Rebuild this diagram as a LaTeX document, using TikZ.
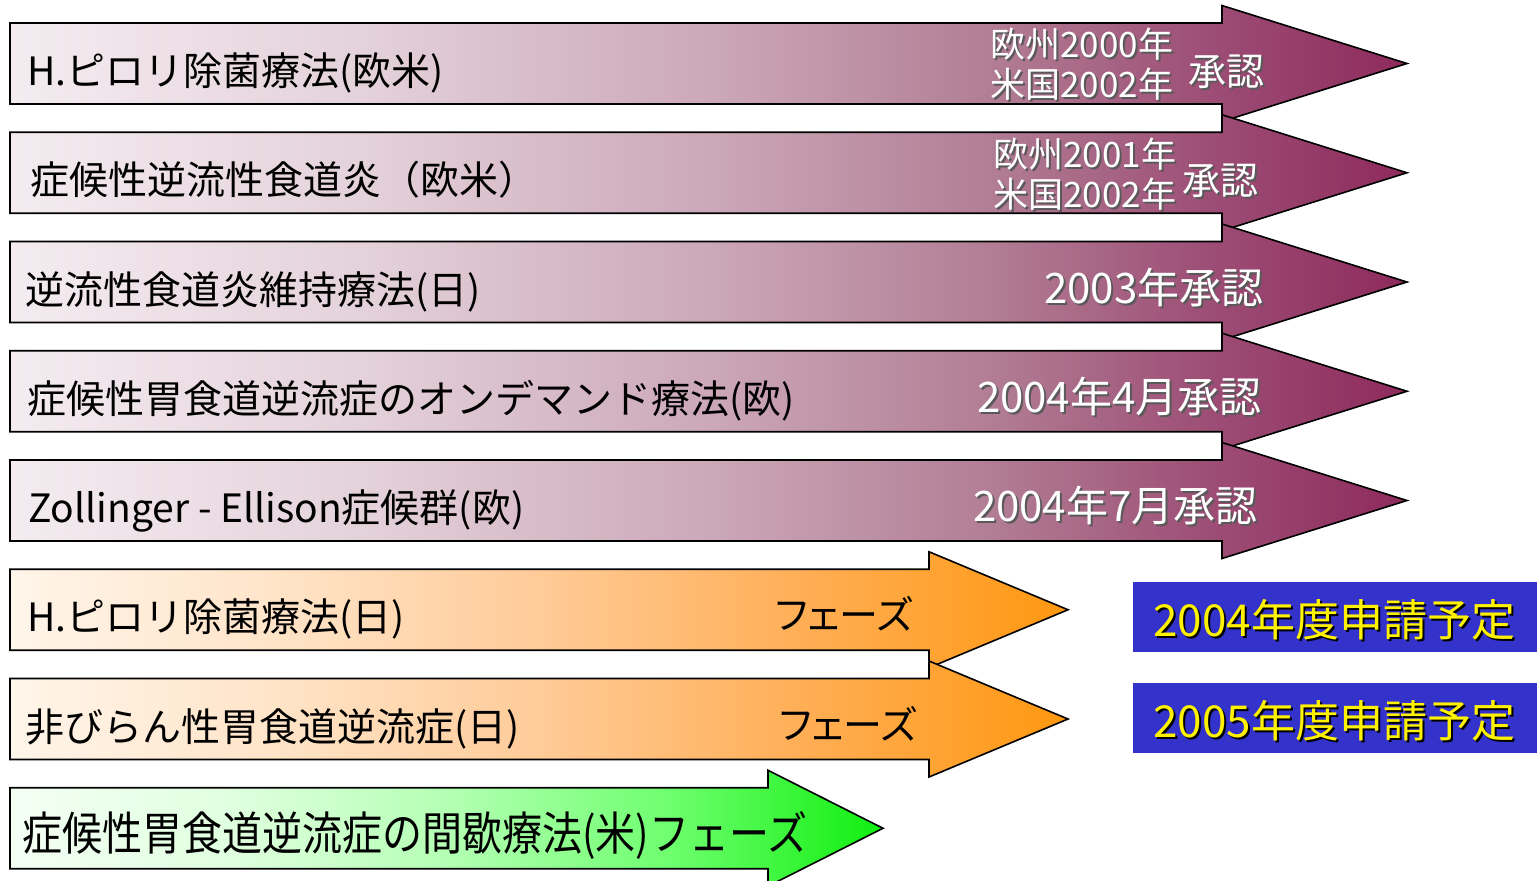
\documentclass[tikz,border=0pt]{standalone}
\usepackage{fontspec}
\setmainfont{Noto Sans CJK JP}
\newcommand\fsz[1]{\fontsize{#1}{#1}\selectfont}
\definecolor{p0}{HTML}{F4ECF0}
\definecolor{p1}{HTML}{E4D2DA}
\definecolor{p2}{HTML}{CCA8B8}
\definecolor{p3}{HTML}{B27E95}
\definecolor{p4}{HTML}{9E5077}
\definecolor{p5}{HTML}{8E2A5C}
\definecolor{o0}{HTML}{FFF5EA}
\definecolor{o1}{HTML}{FFE4C8}
\definecolor{o2}{HTML}{FFCB98}
\definecolor{o3}{HTML}{FFAE55}
\definecolor{o4}{HTML}{FF9810}
\definecolor{g0}{HTML}{F4FFF4}
\definecolor{g1}{HTML}{E0FFE0}
\definecolor{g2}{HTML}{B4FFB4}
\definecolor{g3}{HTML}{70FF70}
\definecolor{g4}{HTML}{10EE10}
\definecolor{boxblue}{HTML}{3333CC}
\pgfdeclarehorizontalshading{purpleshade}{100bp}{color(0bp)=(p0); color(25bp)=(p0); color(37.5bp)=(p1); color(50bp)=(p2); color(60bp)=(p3); color(67.5bp)=(p4); color(75bp)=(p5); color(100bp)=(p5)}
\pgfdeclarehorizontalshading{orangeshade}{100bp}{color(0bp)=(o0); color(25bp)=(o0); color(37.5bp)=(o1); color(50bp)=(o2); color(62.5bp)=(o3); color(75bp)=(o4); color(100bp)=(o4)}
\pgfdeclarehorizontalshading{greenshade}{100bp}{color(0bp)=(g0); color(25bp)=(g0); color(37.5bp)=(g1); color(50bp)=(g2); color(62.5bp)=(g3); color(75bp)=(g4); color(100bp)=(g4)}
\tikzset{
  arrowbody/.style={draw=black, line width=0.8pt, line join=miter},
  purplefill/.style={arrowbody, shading=purpleshade},
  orangefill/.style={arrowbody, shading=orangeshade},
  greenfill/.style={arrowbody, shading=greenshade},
  lbl/.style={anchor=base west, inner sep=0pt, font=\fsz{19.5pt}, text=black},
  phase/.style={anchor=base east, inner sep=0pt, font={\fsz{19.5pt}\addfontfeatures{RawFeature=+palt}}, text=black},
  smallw/.style={anchor=base west, inner sep=0pt, font=\fsz{17.5pt}},
  midw/.style={anchor=base west, inner sep=0pt, font=\fsz{19pt}},
  bigw/.style={anchor=base east, inner sep=0pt, font=\fsz{21pt}},
  bluebox/.style={fill=boxblue, draw=none},
  boxtxt/.style={anchor=base west, inner sep=0pt, font=\fsz{22pt}},
}
% #1 name, #2 position, #3 style, #4 text colour, #5 shadow colour, #6 text
\newcommand\shnode[6]{%
  \node[#3, text=#5, xshift=1pt, yshift=-1pt] (#1s) at #2 {#6};
  \node[#3, text=#4] (#1) at #2 {#6};}
% #1 centre y, #2 head base x, #3 tip x, #4 style
\newcommand\myarrow[4]{%
  \path[#4] (10,#1-40.5) -- (#2,#1-40.5) -- (#2,#1-58) -- (#3,#1) -- (#2,#1+58)
    -- (#2,#1+40.5) -- (10,#1+40.5) -- cycle;}
\begin{document}
\begin{tikzpicture}[x=0.5pt, y=-0.5pt]
\useasboundingbox (0,0) rectangle (1537,880);
% purple arrows
\myarrow{63.5}{1222}{1407}{purplefill}
\node[lbl] (p1) at (27,85) {H.ピロリ除菌療法(欧米)};
\shnode{r1a}{(990,57)}{smallw}{white}{black!65}{欧州2000年}
\shnode{r1b}{(990,97)}{smallw}{white}{black!65}{米国2002年}
\shnode{r1c}{(1188,85)}{midw}{white}{black!65}{承認}
\myarrow{172.75}{1222}{1407}{purplefill}
\node[lbl] (p2) at (30,194) {症候性逆流性食道炎（欧米）};
\shnode{r2a}{(993,167)}{smallw}{white}{black!65}{欧州2001年}
\shnode{r2b}{(993,207)}{smallw}{white}{black!65}{米国2002年}
\shnode{r2c}{(1182,194)}{midw}{white}{black!65}{承認}
\myarrow{282}{1222}{1407}{purplefill}
\node[lbl] (p3) at (25,304) {逆流性食道炎維持療法(日)};
\shnode{r3}{(1264,303)}{bigw}{white}{black!65}{2003年承認}
\myarrow{391.25}{1222}{1407}{purplefill}
\node[lbl] (p4) at (27,413) {症候性胃食道逆流症のオンデマンド療法(欧)};
\shnode{r4}{(1262,412)}{bigw}{white}{black!65}{2004年4月承認}
\myarrow{500.5}{1222}{1407}{purplefill}
\node[lbl] (p5) at (28,522) {Zollinger - Ellison症候群(欧)};
\shnode{r5}{(1258,521)}{bigw}{white}{black!65}{2004年7月承認}
% orange arrows
\myarrow{609.75}{929}{1068}{orangefill}
\node[lbl] (o1) at (27,631) {H.ピロリ除菌療法(日)};
\node[phase] (o1p) at (913,629) {フェーズ};
\myarrow{719}{929}{1068}{orangefill}
\node[lbl] (o2) at (25,741) {非びらん性胃食道逆流症(日)};
\node[phase] (o2p) at (917,739) {フェーズ};
% green arrow
\myarrow{828.25}{768}{883}{greenfill}
\node[lbl, font=\fsz{20pt}, yscale=1.15] (g1) at (22,850) {症候性胃食道逆流症の間歇療法(米)フェーズ};
% blue boxes
\path[bluebox] (1133,582) rectangle (1537,652);
\shnode{b1}{(1153,636)}{boxtxt}{yellow}{black}{2004年度申請予定}
\path[bluebox] (1133,683) rectangle (1537,753);
\shnode{b2}{(1153,737)}{boxtxt}{yellow}{black}{2005年度申請予定}
\end{tikzpicture}
\end{document}
